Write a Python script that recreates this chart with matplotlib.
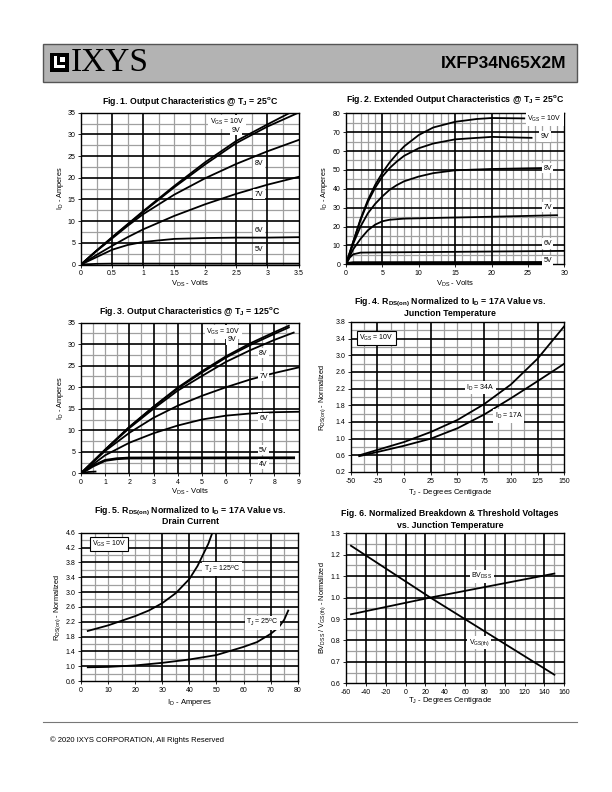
import numpy as np
import matplotlib
matplotlib.use('Agg')
import matplotlib.pyplot as plt
from matplotlib.patches import Rectangle

plt.rcParams['font.family'] = ['Liberation Sans', 'DejaVu Sans']
plt.rcParams['mathtext.default'] = 'regular'

# ---- data ----
# Fig 1: output characteristics @ 25C
f1_vds = [0, 0.25, 0.5, 0.75, 1, 1.5, 2, 2.5, 3, 3.5]
f1_10v = [0, 3.2, 6.3, 9.3, 12.3, 18.1, 23.6, 28.5, 32.3, 36.0]
f1_9v = [0, 3.2, 6.2, 9.2, 12.1, 17.8, 23.1, 28.0, 31.8, 35.0]
f1_8v = [0, 3.1, 6.0, 8.9, 11.6, 16.1, 19.9, 23.2, 26.1, 28.7]
f1_7v = [0, 2.2, 4.3, 6.3, 8.1, 11.2, 13.9, 16.3, 18.4, 20.2]
f1_6v = [0, 1.7, 3.4, 4.5, 5.2, 5.9, 6.1, 6.2, 6.2, 6.3]
f1_5v = [0, 0.15, 0.2, 0.2, 0.2, 0.2, 0.2, 0.2, 0.2, 0.2]
f1_labels = ['$V_{GS}$ = 10V', '9V', '8V', '7V', '6V', '5V']
f1_lab_x = [2.35, 2.5, 2.86, 2.86, 2.86, 2.86]
f1_lab_y = [32.9, 31.0, 23.3, 16.2, 7.9, 3.5]

# Fig 2: extended output characteristics @ 25C
f2_x10 = [0, 1, 2, 3, 4, 5, 6, 7, 8, 10, 12, 15, 18, 20, 24.5]
f2_y10 = [0, 12, 24, 34, 42, 48.5, 54, 58.5, 62.5, 68.5, 72.5, 75.5, 77, 77.5, 77.3]
f2_x9 = [0, 1, 2, 3, 4, 5, 6, 7, 8, 10, 12, 15, 20, 25.5]
f2_y9 = [0, 12, 23.5, 33, 40.5, 46.5, 51, 54.5, 57.5, 61.5, 64, 66.2, 67.5, 67]
f2_x8 = [0, 1, 2, 3, 4, 5, 6, 7, 8, 10, 12, 15, 20, 27]
f2_y8 = [0, 11, 20, 27, 32, 36, 39.5, 42, 44, 46.5, 48.3, 49.8, 50.5, 51]
f2_x7 = [0, 1, 2, 3, 4, 5, 6, 8, 15, 20, 29]
f2_y7 = [0, 8, 13.5, 18, 21, 22.8, 23.6, 24.2, 24.8, 25.2, 26]
f2_x6 = [0, 0.5, 1, 2, 4, 15, 30]
f2_y6 = [0, 3.5, 5.3, 6.2, 6.3, 6.6, 7.1]
f2_x5 = [0, 1, 27]
f2_y5 = [0, 0.5, 0.6]
f2_labels = ['$V_{GS}$ = 10V', '9V', '8V', '7V', '6V', '5V']
f2_lab_x = [27.3, 27.3, 27.7, 27.7, 27.7, 27.7]
f2_lab_y = [76.9, 67.7, 50.9, 30.2, 11.1, 1.9]

# Fig 3: output characteristics @ 125C
f3_x10 = [0, 1, 2, 3, 4, 5, 6, 7, 8, 8.6]
f3_y10 = [0, 5.5, 10.8, 15.5, 19.9, 23.7, 27.2, 30.2, 32.8, 34.3]
f3_y9 = [0, 5.5, 10.7, 15.4, 19.7, 23.4, 26.9, 29.8, 32.4, 33.9]
f3_x8 = [0, 1, 2, 3, 4, 5, 6, 7, 8, 8.8]
f3_y8 = [0, 5.4, 10.5, 15, 19.2, 22.6, 25.9, 28.6, 31, 32.7]
f3_x7 = [0, 1, 2, 3, 4, 5, 6, 7, 8, 9]
f3_y7 = [0, 5.2, 9.4, 12.9, 15.7, 18, 20, 21.8, 23.3, 24.6]
f3_y6 = [0, 4.2, 7.1, 9.3, 11.1, 12.5, 13.4, 13.9, 14.2, 14.3]
f3_x5 = [0, 0.5, 1, 1.5, 2, 8.8]
f3_y5 = [0, 1.7, 3.0, 3.4, 3.55, 3.6]
f3_x4 = [0, 0.3, 0.6]
f3_y4 = [0, 0.3, 0.4]
f3_labels = ['$V_{GS}$ = 10V', '9V', '8V', '7V', '6V', '5V', '4V']
f3_lab_x = [5.9, 6.24, 7.55, 7.55, 7.55, 7.55, 7.55]
f3_lab_y = [32.8, 31.0, 27.9, 22.6, 12.8, 5.4, 2.1]

# Fig 4: RDS(on) vs junction temperature
f4_tj = [-42, -25, 0, 25, 50, 75, 100, 125, 150]
f4_34a = [0.6, 0.73, 0.92, 1.16, 1.45, 1.83, 2.3, 2.92, 3.7]
f4_17a = [0.58, 0.68, 0.83, 1.0, 1.25, 1.58, 1.97, 2.38, 2.8]

# Fig 5: RDS(on) vs drain current
f5_id125 = [2.5, 10, 20, 25, 30, 35, 40, 43, 45, 47, 48.5]
f5_r125 = [1.95, 2.1, 2.35, 2.5, 2.7, 2.97, 3.35, 3.7, 4.0, 4.3, 4.6]
f5_id25 = [2.5, 10, 20, 30, 40, 50, 60, 65, 70, 73, 75, 76.5]
f5_r25 = [0.97, 0.98, 1.02, 1.09, 1.18, 1.3, 1.52, 1.65, 1.87, 2.05, 2.25, 2.5]

# Fig 6: normalized BVDSS / VGS(th)
f6_tj = [-55, 25, 150]
f6_bv = [0.922, 1.0, 1.112]
f6_vth = [1.242, 1.0, 0.64]

W, H = 612, 792
fig = plt.figure(figsize=(W / 100, H / 100), dpi=100)


def box(l, t, r, b):
    # pixel box -> figure fraction axes rect
    return [l / W, 1 - b / H, (r - l) / W, (b - t) / H]


def ptext(x, y, s, **kw):
    fig.text(x / W, 1 - y / H, s, **kw)


def grid(ax, xblack, xgray, yblack, ygray):
    for v in xgray:
        ax.axvline(v, color='#a0a0a0', lw=0.9, zorder=1)
    for v in ygray:
        ax.axhline(v, color='#a0a0a0', lw=0.9, zorder=1)
    for v in xblack:
        ax.axvline(v, color='black', lw=1.2, zorder=1.5)
    for v in yblack:
        ax.axhline(v, color='black', lw=1.2, zorder=1.5)


def style(ax, xlim, ylim, xt, yt, xfmt='{:g}', yfmt='{:g}'):
    ax.set_xlim(xlim)
    ax.set_ylim(ylim)
    ax.set_xticks(xt)
    ax.set_yticks(yt)
    ax.set_xticklabels([xfmt.format(v) for v in xt])
    ax.set_yticklabels([yfmt.format(v) for v in yt])
    ax.tick_params(labelsize=5, length=2, width=0.6, pad=2)
    for s in ax.spines.values():
        s.set_linewidth(1.0)
        s.set_zorder(3)


def label(ax, x, y, s, ha='center'):
    ax.text(x, y, s, fontsize=5, ha=ha, va='center', zorder=4,
            bbox=dict(fc='white', ec='none', pad=1.2))


def title(x, y, s):
    ptext(x, y, s, fontsize=6.3, fontweight='bold', ha='center', va='center')


def ylab(x, y, s):
    ptext(x, y, s, fontsize=5.3, ha='center', va='center', rotation=90)


lw = 1.3

# ---------------- header ----------------
fig.patches.append(Rectangle((43 / W, 1 - 82 / H), 534 / W, 38 / H, transform=fig.transFigure,
                             fc='#b3b3b3', ec='#555555', lw=1.0))
fig.patches.append(Rectangle((50 / W, 1 - 72 / H), 19 / W, 19 / H, transform=fig.transFigure,
                             fc='black', ec='none'))
fig.patches.append(Rectangle((54 / W, 1 - 68 / H), 3 / W, 12 / H, transform=fig.transFigure,
                             fc='white', ec='none'))
fig.patches.append(Rectangle((54 / W, 1 - 68 / H), 11 / W, 3 / H, transform=fig.transFigure,
                             fc='white', ec='none'))
fig.patches.append(Rectangle((60 / W, 1 - 62 / H), 5 / W, 5 / H, transform=fig.transFigure,
                             fc='white', ec='none'))
ptext(71, 63, 'IXYS', fontsize=24, family='Liberation Serif', va='center', ha='left')
ptext(566, 63, 'IXFP34N65X2M', fontsize=12.5, fontweight='bold', va='center', ha='right')

# ---------------- Fig 1 ----------------
ax1 = fig.add_axes(box(81, 112.7, 298.5, 264.5))
style(ax1, (0, 3.5), (0, 35), [0, 0.5, 1, 1.5, 2, 2.5, 3, 3.5], range(0, 36, 5))
grid(ax1, [0.5, 1, 2.5, 3], [0.25, 0.75, 1.25, 1.5, 1.75, 2, 2.25, 2.75, 3.25],
     range(5, 35, 5), np.arange(2.5, 35, 5))
for y in [f1_10v, f1_9v, f1_8v, f1_7v, f1_6v, f1_5v]:
    ax1.plot(f1_vds, y, color='black', lw=lw, zorder=2)
for s, x, y in zip(f1_labels, f1_lab_x, f1_lab_y):
    label(ax1, x, y, s)
title(190, 101, 'Fig. 1. Output Characteristics @ T$_J$ = 25$^o$C')
ptext(190, 284, 'V$_{DS}$ - Volts', fontsize=5.5, ha='center', va='center')
ylab(60, 188, 'I$_D$ - Amperes')

# ---------------- Fig 2 ----------------
ax2 = fig.add_axes(box(346, 113.3, 564.3, 264.3))
style(ax2, (0, 30), (0, 80), range(0, 31, 5), range(0, 81, 10))
grid(ax2, [5, 15, 20], [v for v in range(1, 30) if v not in (5, 15, 20)],
     range(10, 80, 10), range(5, 80, 10))
for x, y in [(f2_x10, f2_y10), (f2_x9, f2_y9), (f2_x8, f2_y8), (f2_x7, f2_y7), (f2_x6, f2_y6)]:
    ax2.plot(x, y, color='black', lw=lw, zorder=2)
ax2.plot(f2_x5, f2_y5, color='black', lw=3, zorder=2)
for s, x, y in zip(f2_labels, f2_lab_x, f2_lab_y):
    label(ax2, x, y, s)
title(455, 100, 'Fig. 2. Extended Output Characteristics @ T$_J$ = 25$^o$C')
ptext(455, 284, 'V$_{DS}$ - Volts', fontsize=5.5, ha='center', va='center')
ylab(324, 188, 'I$_D$ - Amperes')

# ---------------- Fig 3 ----------------
ax3 = fig.add_axes(box(81, 322.7, 298.5, 473.3))
style(ax3, (0, 9), (0, 35), range(0, 10), range(0, 36, 5))
grid(ax3, range(2, 9), [0.5, 1, 1.5, 2.5, 3.5, 4.5, 5.5, 6.5, 7.5, 8.5],
     range(5, 35, 5), np.arange(2.5, 35, 5))
for x, y in [(f3_x10, f3_y10), (f3_x10, f3_y9), (f3_x8, f3_y8), (f3_x7, f3_y7),
             (f3_x7, f3_y6), (f3_x4, f3_y4)]:
    ax3.plot(x, y, color='black', lw=lw, zorder=2)
ax3.plot(f3_x5, f3_y5, color='black', lw=2, zorder=2)
for s, x, y in zip(f3_labels, f3_lab_x, f3_lab_y):
    label(ax3, x, y, s)
title(190, 311, 'Fig. 3. Output Characteristics @ T$_J$ = 125$^o$C')
ptext(190, 492, 'V$_{DS}$ - Volts', fontsize=5.5, ha='center', va='center')
ylab(60, 398, 'I$_D$ - Amperes')

# ---------------- Fig 4 ----------------
ax4 = fig.add_axes(box(350.7, 322, 564.3, 472))
style(ax4, (-50, 150), (0.2, 3.8), range(-50, 151, 25), np.arange(0.2, 3.81, 0.4),
      yfmt='{:.1f}')
grid(ax4, [-25, 25, 75, 125], [-37.5, -12.5, 0, 12.5, 37.5, 50, 62.5, 87.5, 100, 112.5, 137.5],
     np.arange(0.6, 3.5, 0.4), np.arange(0.4, 3.7, 0.4))
ax4.plot(f4_tj, f4_34a, color='black', lw=lw, zorder=2)
ax4.plot(f4_tj, f4_17a, color='black', lw=lw, zorder=2)
label(ax4, 71.4, 2.23, '$I_D$ = 34A')
label(ax4, 97.9, 1.54, '$I_D$ = 17A')
ax4.text(-42, 3.42, '$V_{GS}$ = 10V', fontsize=5, ha='left', va='center', zorder=4,
         bbox=dict(fc='white', ec='black', lw=0.8, pad=1.5))
title(450, 302, 'Fig. 4. R$_{DS(on)}$ Normalized to I$_D$ = 17A Value vs.')
title(450, 314, 'Junction Temperature')
ptext(450, 492, 'T$_J$ - Degrees Centigrade', fontsize=5.5, ha='center', va='center')
ylab(323, 397, 'R$_{DS(on)}$ - Normalized')

# ---------------- Fig 5 ----------------
ax5 = fig.add_axes(box(81, 532.7, 297.7, 681))
style(ax5, (0, 80), (0.6, 4.6), range(0, 81, 10), np.arange(0.6, 4.61, 0.4), yfmt='{:.1f}')
grid(ax5, [30, 40, 50, 70], [5, 10, 15, 20, 25, 35, 45, 55, 60, 65, 75],
     np.arange(1.0, 4.3, 0.4), np.arange(0.8, 4.5, 0.4))
ax5.plot(f5_id125, f5_r125, color='black', lw=lw, zorder=2)
ax5.plot(f5_id25, f5_r25, color='black', lw=lw, zorder=2)
label(ax5, 52, 3.62, '$T_J$ = 125$^o$C')
label(ax5, 67, 2.17, '$T_J$ = 25$^o$C')
ax5.text(4, 4.3, '$V_{GS}$ = 10V', fontsize=5, ha='left', va='center', zorder=4,
         bbox=dict(fc='white', ec='black', lw=0.8, pad=1.5))
title(190, 511, 'Fig. 5. R$_{DS(on)}$ Normalized to I$_D$ = 17A Value vs.')
title(190, 522, 'Drain Current')
ptext(190, 702, 'I$_D$ - Amperes', fontsize=5.5, ha='center', va='center')
ylab(58, 607, 'R$_{DS(on)}$ - Normalized')

# ---------------- Fig 6 ----------------
ax6 = fig.add_axes(box(346, 533.3, 564.3, 683.3))
style(ax6, (-60, 160), (0.6, 1.3), range(-60, 161, 20), np.arange(0.6, 1.31, 0.1),
      yfmt='{:.1f}')
grid(ax6, [-40, -20, 0, 20, 60, 80, 100, 140], [-50, -30, -10, 10, 30, 40, 50, 70, 90, 110, 120, 130, 150],
     np.arange(0.7, 1.25, 0.1), np.arange(0.65, 1.3, 0.1))
ax6.plot(f6_tj, f6_bv, color='black', lw=lw, zorder=2)
ax6.plot(f6_tj, f6_vth, color='black', lw=lw, zorder=2)
ax6.text(77, 1.10, 'BV$_{DSS}$', fontsize=5, ha='center', va='center', zorder=4,
         bbox=dict(fc='white', ec='none', pad=1))
ax6.text(74, 0.79, 'V$_{GS(th)}$', fontsize=5, ha='center', va='center', zorder=4,
         bbox=dict(fc='white', ec='none', pad=1))
title(450, 514, 'Fig. 6. Normalized Breakdown & Threshold Voltages')
title(450, 525, 'vs. Junction Temperature')
ptext(450, 701, 'T$_J$ - Degrees Centigrade', fontsize=5.5, ha='center', va='center')
ylab(323, 608, 'BV$_{DSS}$ / V$_{GS(th)}$ - Normalized')

# ---------------- footer ----------------
fig.add_artist(plt.Line2D([43 / W, 577 / W], [1 - 722 / H, 1 - 722 / H], color='#777777', lw=0.8))
ptext(50, 740, '\u00a9 2020 IXYS CORPORATION, All Rights Reserved', fontsize=5.5, ha='left', va='center')

fig.savefig('out.png', dpi=100)
